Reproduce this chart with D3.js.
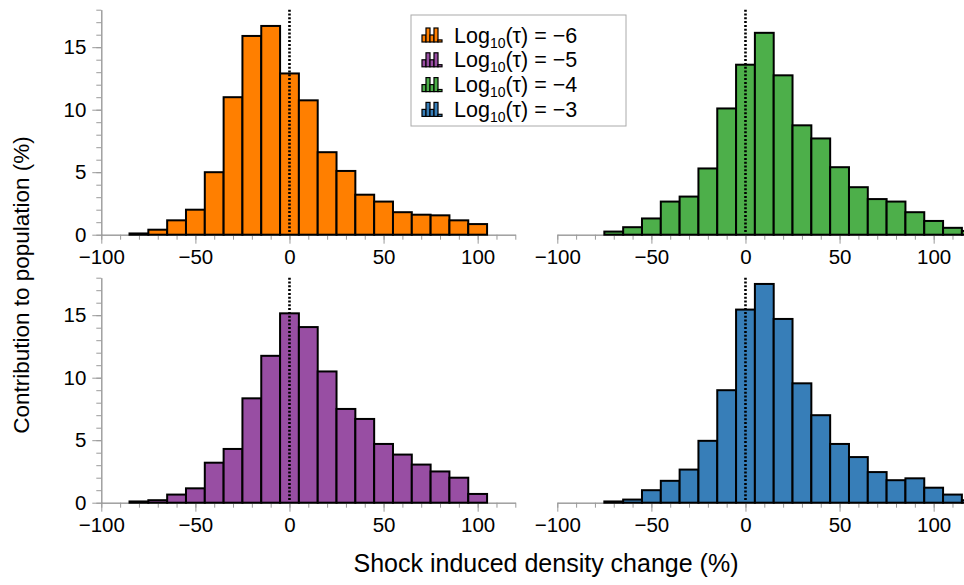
<!DOCTYPE html>
<html>
<head>
<meta charset="utf-8">
<script src="https://cdn.jsdelivr.net/npm/d3@7"></script>
<style>
  body { margin: 0; background: #fff; }
  svg { display: block; font-family: "Liberation Sans", Arial, Helvetica, sans-serif; }
</style>
</head>
<body>
<svg id="HIST_GRID"></svg>
<script>
// bin centres (width 10 %)
const bins = [-80, -70, -60, -50, -40, -30, -20, -10, 0, 10, 20, 30, 40, 50, 60, 70, 80, 90, 100, 110, 120];

// contribution to population (%) per bin
const tauM6 = [0.1, 0.4, 1.15, 2.0, 5.0, 11.0, 15.9, 16.7, 12.9, 10.75, 6.6, 5.1, 3.2, 2.65, 1.8, 1.6, 1.55, 1.15, 0.85, 0, 0];
const tauM5 = [0.1, 0.2, 0.65, 1.15, 3.2, 4.3, 8.35, 11.75, 15.15, 14.05, 10.5, 7.5, 6.7, 4.7, 3.85, 3.05, 2.5, 2.0, 0.7, 0, 0];
const tauM4 = [0, 0.25, 0.6, 1.3, 2.65, 3.05, 5.3, 10.1, 13.6, 16.15, 12.75, 8.75, 7.7, 5.4, 3.8, 2.85, 2.65, 1.8, 1.1, 0.55, 0.3];
const tauM3 = [0, 0.1, 0.25, 1.0, 1.75, 2.65, 4.95, 9.0, 15.45, 17.5, 14.7, 9.55, 7.0, 4.7, 3.65, 2.45, 1.8, 1.95, 1.2, 0.65, 0.2];

const legendLabels = ["\u22126", "\u22125", "\u22124", "\u22123"];
const legendColors = ["#ff7f00", "#984ea3", "#4daf4a", "#377eb8"];

const xMajor = [-100, -50, 0, 50, 100];
const xMinor = [-100, -90, -80, -70, -60, -50, -40, -30, -20, -10, 0, 10, 20, 30, 40, 50, 60, 70, 80, 90, 100, 110, 120];
const yMajor = [0, 5, 10, 15];
const yMinor = [0, 1, 2, 3, 4, 5, 6, 7, 8, 9, 10, 11, 12, 13, 14, 15, 16, 17, 18];

const width = 964;
const height = 585;
const axisColor = "#9a9a9a";

const svg = d3.select("#HIST_GRID").attr("width", width).attr("height", height);

// panel frames: left / right columns, top / bottom rows
const cols = [[101.3, 515.3], [557.3, 971.3]];
const rows = [[234.7, 9.7], [502.7, 277.7]];

const panels = [
  { data: tauM6, color: legendColors[0], col: 0, row: 0, yAxis: true },
  { data: tauM4, color: legendColors[2], col: 1, row: 0, yAxis: false },
  { data: tauM5, color: legendColors[1], col: 0, row: 1, yAxis: true },
  { data: tauM3, color: legendColors[3], col: 1, row: 1, yAxis: false },
];

const styleAxis = (g) => {
  g.selectAll(".domain").attr("stroke", axisColor).attr("stroke-width", 1);
  g.selectAll(".tick line").attr("stroke", axisColor).attr("stroke-width", 1);
  g.selectAll(".tick text").attr("fill", "#000").style("font-size", "20.5px");
};

panels.forEach((p, i) => {
  const x = d3.scaleLinear().domain([-100, 120]).range(cols[p.col]);
  const y = d3.scaleLinear().domain([0, 18]).range(rows[p.row]);
  const g = svg.append("g").attr("class", "panel");

  g.append("clipPath")
    .attr("id", "clip" + i)
    .append("rect")
    .attr("x", x.range()[0])
    .attr("y", y.range()[1] - 5)
    .attr("width", x.range()[1] - x.range()[0])
    .attr("height", y.range()[0] - y.range()[1] + 10);

  // x axis: minor then major ticks, pointing down
  g.append("g")
    .attr("transform", `translate(0,${y(0)})`)
    .call(d3.axisBottom(x).tickValues(xMinor).tickSize(5).tickSizeOuter(0).tickFormat(""))
    .call(styleAxis);
  g.append("g")
    .attr("transform", `translate(0,${y(0)})`)
    .call(d3.axisBottom(x).tickValues(xMajor).tickSize(9).tickSizeOuter(0).tickPadding(6))
    .call(styleAxis);

  if (p.yAxis) {
    g.append("g")
      .attr("transform", `translate(${x(-100)},0)`)
      .call(d3.axisLeft(y).tickValues(yMinor).tickSize(5).tickSizeOuter(0).tickFormat(""))
      .call(styleAxis);
    g.append("g")
      .attr("transform", `translate(${x(-100)},0)`)
      .call(d3.axisLeft(y).tickValues(yMajor).tickSize(9).tickSizeOuter(0).tickPadding(6))
      .call(styleAxis);
  }

  // histogram bars
  g.append("g")
    .attr("clip-path", `url(#clip${i})`)
    .selectAll("rect")
    .data(bins.map((b, j) => ({ b: b, v: p.data[j] })).filter((d) => d.v > 0))
    .join("rect")
    .attr("x", (d) => x(d.b - 5))
    .attr("width", (d) => x(d.b + 5) - x(d.b - 5))
    .attr("y", (d) => y(d.v))
    .attr("height", (d) => y(0) - y(d.v))
    .attr("fill", p.color)
    .attr("stroke", "#000")
    .attr("stroke-width", 2);

  // zero reference
  g.append("line")
    .attr("x1", x(0))
    .attr("x2", x(0))
    .attr("y1", y(18))
    .attr("y2", y(0))
    .attr("stroke", "#000")
    .attr("stroke-width", 2.6)
    .attr("stroke-dasharray", "2,1.8");
});

// axis titles
svg.append("text")
  .attr("x", 546)
  .attr("y", 572)
  .attr("text-anchor", "middle")
  .style("font-size", "25px")
  .text("Shock induced density change (%)");

svg.append("text")
  .attr("transform", "translate(29,285) rotate(-90)")
  .attr("text-anchor", "middle")
  .style("font-size", "22.5px")
  .text("Contribution to population (%)");

// legend
const legend = svg.append("g").attr("class", "legend");
legend.append("rect")
  .attr("x", 411)
  .attr("y", 15)
  .attr("width", 215)
  .attr("height", 111)
  .attr("fill", "#fff")
  .attr("stroke", "#aaa")
  .attr("stroke-width", 1);

const iconBars = [0.5, 1, 0.5, 1, 0.15];
legendLabels.forEach((lab, i) => {
  const cy = 35 + i * 24.8;
  const row = legend.append("g").attr("transform", `translate(0,${cy})`);
  row.selectAll("rect")
    .data(iconBars)
    .join("rect")
    .attr("x", (d, k) => 422 + k * 4)
    .attr("width", 4)
    .attr("y", (d) => 7 - d * 14)
    .attr("height", (d) => d * 14)
    .attr("fill", legendColors[i])
    .attr("stroke", "#000")
    .attr("stroke-width", 1.2);
  const t = row.append("text").attr("x", 454).attr("y", 7.5).style("font-size", "21.5px");
  t.append("tspan").text("Log");
  t.append("tspan").attr("dy", 5).style("font-size", "14px").text("10");
  t.append("tspan").attr("dy", -5).text(`(\u03c4) = ${lab}`);
});
</script>
</body>
</html>
